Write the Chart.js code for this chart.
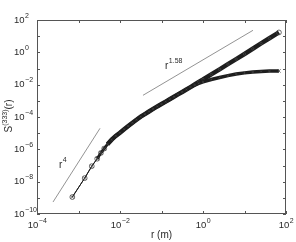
<!DOCTYPE html>
<html>
<head>
<meta charset="utf-8">
<script src="https://cdn.jsdelivr.net/npm/chart.js@4/dist/chart.umd.min.js"></script>
<style>
  html, body { margin: 0; padding: 0; background: #fff; }
  #wrap { width: 296px; height: 242px; }
</style>
</head>
<body>
<div id="wrap"><canvas id="c" width="296" height="242"></canvas></div>
<script>
// separation r (m)
const rValues = [
    7.1e-4, 1.41e-3, 2.09e-3, 2.82e-3, 3.47e-3, 4.17e-3, 5.0e-3, 6.3e-3, 7.9e-3,
    1.0e-2, 1.26e-2, 1.58e-2, 2.0e-2, 2.5e-2, 3.16e-2, 3.98e-2, 5.0e-2, 6.3e-2, 7.9e-2,
    0.1, 0.126, 0.158, 0.2, 0.25, 0.316, 0.398, 0.5, 0.63, 0.79,
    1, 1.58, 2.51, 3.98, 6.3, 10, 15.8, 25.1, 39.8, 67.6
];
// S(333)(r), circles (steep branch)
const sCircles = [
    1.12e-9, 1.66e-8, 9.1e-8, 2.63e-7, 6.0e-7, 1.12e-6, 2.09e-6, 3.98e-6, 6.8e-6,
    1.07e-5, 1.74e-5, 2.75e-5, 4.4e-5, 6.8e-5, 1.05e-4, 1.51e-4, 2.19e-4, 3.16e-4, 4.5e-4,
    6.3e-4, 8.9e-4, 1.26e-3, 1.78e-3, 2.51e-3, 3.55e-3, 5.0e-3, 7.1e-3, 1.02e-2, 1.48e-2,
    2.09e-2, 4.3e-2, 8.9e-2, 0.186, 0.38, 0.79, 1.66, 3.55, 7.4, 17.0
];
// S(333)(r), crosses (saturating branch)
const sCrosses = [
    1.12e-9, 1.66e-8, 9.1e-8, 2.63e-7, 6.0e-7, 1.12e-6, 2.09e-6, 3.98e-6, 6.8e-6,
    1.07e-5, 1.74e-5, 2.75e-5, 4.4e-5, 6.8e-5, 1.05e-4, 1.51e-4, 2.19e-4, 3.16e-4, 4.5e-4,
    6.3e-4, 8.9e-4, 1.26e-3, 1.78e-3, 2.51e-3, 3.55e-3, 5.0e-3, 7.1e-3, 9.5e-3, 1.2e-2,
    1.48e-2, 2.09e-2, 2.75e-2, 3.63e-2, 4.57e-2, 5.37e-2, 6.0e-2, 6.6e-2, 6.9e-2, 7.1e-2
];
// guide lines
const guide4R = [2.43e-4, 3.3e-3];
const guide4S = [5.5e-10, 2.0e-5];
const guide158R = [3.58e-2, 16.0];
const guide158S = [2.2e-3, 23.0];

const xDecades = [-4, -3, -2, -1, 0, 1, 2];
const yDecades = [-10, -9, -8, -7, -6, -5, -4, -3, -2, -1, 0, 1, 2];
const xLabelExps = [-4, -2, 0, 2];
const yLabelExps = [-10, -8, -6, -4, -2, 0, 2];

const pts = (xs, ys) => xs.map((x, i) => ({ x, y: ys[i] }));
const INK = '#1e1e1e';
const FONT = '"Liberation Sans", Arial, sans-serif';
const last = rValues.length - 1;

// thin line between the first sparse points, thick band afterwards
const bandWidth = big => ctx => ctx.p0DataIndex < 3 ? 1 : (ctx.p0DataIndex < 6 ? 2.5 : big);
const markSize = ctx => ctx.dataIndex < 6 || ctx.dataIndex === last ? 2.4 : 1.2;

function power(ctx, base, exp, x, y, size, align) {
    ctx.font = size + 'px ' + FONT;
    const wb = ctx.measureText(base).width;
    ctx.font = Math.round(size * 0.72) + 'px ' + FONT;
    const we = ctx.measureText(exp).width;
    let x0 = x;
    if (align === 'center') x0 = x - (wb + we) / 2;
    ctx.textBaseline = 'middle';
    ctx.textAlign = 'left';
    ctx.font = size + 'px ' + FONT;
    ctx.fillText(base, x0, y);
    ctx.font = Math.round(size * 0.72) + 'px ' + FONT;
    ctx.fillText(exp, x0 + wb + 0.5, y - size * 0.45);
}

const frame = {
    id: 'frame',
    afterDraw(chart) {
        const { ctx, chartArea: a, scales: { x, y } } = chart;
        ctx.save();
        ctx.strokeStyle = '#555';
        ctx.lineWidth = 1;
        ctx.strokeRect(a.left + 0.5, a.top + 0.5, a.right - a.left - 1, a.bottom - a.top - 1);
        ctx.beginPath();
        xDecades.forEach(e => {
            const px = Math.round(x.getPixelForValue(Math.pow(10, e))) + 0.5;
            ctx.moveTo(px, a.bottom); ctx.lineTo(px, a.bottom - 3);
            ctx.moveTo(px, a.top); ctx.lineTo(px, a.top + 3);
        });
        yDecades.forEach(e => {
            const py = Math.round(y.getPixelForValue(Math.pow(10, e))) + 0.5;
            ctx.moveTo(a.left, py); ctx.lineTo(a.left + 3, py);
            ctx.moveTo(a.right, py); ctx.lineTo(a.right - 3, py);
        });
        ctx.stroke();

        ctx.fillStyle = '#2a2a2a';
        xLabelExps.forEach(e => {
            const px = x.getPixelForValue(Math.pow(10, e));
            power(ctx, '10', String(e).replace('-', '\u2212'), px, a.bottom + 11, 9.5, 'center');
        });
        yLabelExps.forEach(e => {
            const py = y.getPixelForValue(Math.pow(10, e));
            power(ctx, '10', String(e).replace('-', '\u2212'), 14, py, 9.5, 'left');
        });

        ctx.font = '10px ' + FONT;
        ctx.textAlign = 'center';
        ctx.textBaseline = 'middle';
        ctx.fillText('r (m)', (a.left + a.right) / 2, 235);

        // rotated y title: S^(333)(r)
        ctx.save();
        ctx.translate(9, 116);
        ctx.rotate(-Math.PI / 2);
        ctx.font = '10px ' + FONT;
        const w1 = ctx.measureText('S').width;
        ctx.font = '7px ' + FONT;
        const w2 = ctx.measureText('(333)').width;
        ctx.font = '10px ' + FONT;
        const w3 = ctx.measureText('(r)').width;
        let sx = -(w1 + w2 + w3) / 2;
        ctx.textAlign = 'left';
        ctx.fillText('S', sx, 0);
        ctx.font = '7px ' + FONT;
        ctx.fillText('(333)', sx + w1, -4);
        ctx.font = '10px ' + FONT;
        ctx.fillText('(r)', sx + w1 + w2, 0);
        ctx.restore();

        power(ctx, 'r', '4', 59, 165, 10, 'left');
        power(ctx, 'r', '1.58', 165, 66, 10, 'left');
        ctx.restore();
    }
};

new Chart(document.getElementById('c'), {
    type: 'scatter',
    data: {
        datasets: [
            {
                data: pts(guide4R, guide4S),
                showLine: true, borderColor: '#777', borderWidth: 0.8, pointRadius: 0
            },
            {
                data: pts(guide158R, guide158S),
                showLine: true, borderColor: '#777', borderWidth: 0.8, pointRadius: 0
            },
            {
                data: pts(rValues, sCrosses),
                showLine: true, borderColor: INK, borderWidth: 1,
                segment: { borderWidth: bandWidth(3.5) },
                pointStyle: 'crossRot', pointRadius: markSize, pointBorderColor: '#444', pointBorderWidth: 0.8
            },
            {
                data: pts(rValues, sCircles),
                showLine: true, borderColor: INK, borderWidth: 1,
                segment: { borderWidth: bandWidth(4.5) },
                pointStyle: 'circle', pointRadius: markSize, pointBackgroundColor: 'rgba(0,0,0,0)',
                pointBorderColor: '#444', pointBorderWidth: 0.8
            }
        ]
    },
    options: {
        responsive: false,
        animation: false,
        layout: { padding: { left: 37, right: 10, top: 20, bottom: 28 } },
        plugins: { legend: { display: false }, tooltip: { enabled: false } },
        scales: {
            x: { type: 'logarithmic', min: 1e-4, max: 1e2, display: false },
            y: { type: 'logarithmic', min: 1e-10, max: 1e2, display: false }
        }
    },
    plugins: [frame]
});
</script>
</body>
</html>
